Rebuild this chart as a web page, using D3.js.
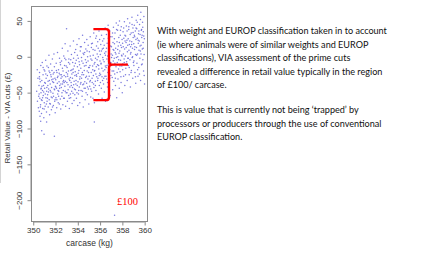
<!DOCTYPE html>
<html>
<head>
<meta charset="utf-8">
<script src="https://cdn.jsdelivr.net/npm/d3@7"></script>
<style>
  body { margin: 0; background: #fff; }
  svg { display: block; }
</style>
</head>
<body>
<div id="chart"></div>
<script>
// carcase weight (kg) and retail value difference (£)
const carcase = [
  350.31, 350.38, 350.42, 350.46, 350.49, 350.36,
  350.52, 350.54, 350.57, 350.59, 350.61, 350.63, 350.66, 350.68, 350.70, 350.72, 350.74, 350.56,
  350.77, 350.79, 350.81, 350.83, 350.85, 350.88, 350.90, 350.92, 350.95, 350.97, 350.99,
  351.02, 351.04, 351.07, 351.09, 351.12, 351.14, 351.16, 351.19, 351.21, 351.23, 351.24,
  351.27, 351.29, 351.31, 351.34, 351.36, 351.38, 351.41, 351.43, 351.45, 351.47, 351.49,
  351.52, 351.54, 351.56, 351.59, 351.61, 351.63, 351.65, 351.68, 351.70, 351.72, 351.74,
  351.77, 351.79, 351.81, 351.83, 351.86, 351.88, 351.90, 351.93, 351.95, 351.97, 351.99,
  352.02, 352.04, 352.06, 352.09, 352.11, 352.13, 352.16, 352.18, 352.20, 352.22, 352.24,
  352.27, 352.29, 352.32, 352.34, 352.36, 352.38, 352.41, 352.43, 352.45, 352.47, 352.49,
  352.52, 352.54, 352.57, 352.59, 352.61, 352.63, 352.66, 352.68, 352.70, 352.72, 352.74,
  352.77, 352.79, 352.81, 352.84, 352.86, 352.88, 352.91, 352.93, 352.95, 352.97, 352.99,
  353.02, 353.04, 353.07, 353.09, 353.11, 353.13, 353.16, 353.18, 353.20, 353.22, 353.24,
  353.27, 353.29, 353.31, 353.34, 353.36, 353.38, 353.40, 353.43, 353.45, 353.47, 353.49,
  353.52, 353.54, 353.57, 353.59, 353.61, 353.63, 353.66, 353.68, 353.70, 353.72, 353.74,
  353.77, 353.79, 353.81, 353.84, 353.86, 353.88, 353.90, 353.93, 353.95, 353.97, 353.99,
  354.02, 354.04, 354.06, 354.09, 354.11, 354.13, 354.16, 354.18, 354.20, 354.22, 354.24,
  354.27, 354.29, 354.31, 354.34, 354.36, 354.38, 354.41, 354.43, 354.45, 354.47, 354.49,
  354.52, 354.54, 354.57, 354.59, 354.61, 354.63, 354.66, 354.68, 354.70, 354.72, 354.74,
  354.77, 354.79, 354.81, 354.84, 354.86, 354.88, 354.91, 354.93, 354.95, 354.97, 354.99,
  355.02, 355.04, 355.07, 355.09, 355.11, 355.13, 355.16, 355.18, 355.20, 355.22, 355.24,
  355.27, 355.29, 355.31, 355.34, 355.36, 355.38, 355.40, 355.43, 355.45, 355.47, 355.49,
  355.52, 355.54, 355.57, 355.59, 355.61, 355.63, 355.66, 355.68, 355.70, 355.72, 355.74,
  355.77, 355.79, 355.81, 355.84, 355.86, 355.88, 355.90, 355.93, 355.95, 355.97, 355.99,
  356.02, 356.04, 356.06, 356.09, 356.11, 356.13, 356.16, 356.18, 356.20, 356.22, 356.24,
  356.27, 356.29, 356.31, 356.34, 356.36, 356.38, 356.41, 356.43, 356.45, 356.47, 356.49,
  356.52, 356.54, 356.57, 356.59, 356.61, 356.63, 356.66, 356.68, 356.70, 356.72, 356.74,
  356.77, 356.79, 356.81, 356.84, 356.86, 356.88, 356.91, 356.93, 356.95, 356.97, 356.99,
  357.02, 357.04, 357.07, 357.09, 357.11, 357.13, 357.16, 357.18, 357.20, 357.22, 357.24,
  357.27, 357.29, 357.31, 357.34, 357.36, 357.38, 357.40, 357.43, 357.45, 357.47, 357.49,
  357.52, 357.54, 357.57, 357.59, 357.61, 357.63, 357.66, 357.68, 357.70, 357.72, 357.74,
  357.77, 357.79, 357.81, 357.84, 357.86, 357.88, 357.90, 357.93, 357.95, 357.97, 357.99,
  358.02, 358.04, 358.06, 358.09, 358.11, 358.13, 358.16, 358.18, 358.20, 358.22, 358.24,
  358.27, 358.29, 358.31, 358.34, 358.36, 358.38, 358.41, 358.43, 358.45, 358.47, 358.49,
  358.52, 358.54, 358.57, 358.59, 358.61, 358.63, 358.66, 358.68, 358.70, 358.72, 358.74,
  358.77, 358.79, 358.81, 358.84, 358.86, 358.88, 358.91, 358.93, 358.95, 358.97, 358.99,
  359.02, 359.04, 359.07, 359.09, 359.11, 359.13, 359.16, 359.18, 359.20, 359.22, 359.24,
  359.27, 359.29, 359.31, 359.34, 359.36, 359.38, 359.40, 359.43, 359.45, 359.47, 359.49,
  359.52, 359.54, 359.57, 359.59, 359.61, 359.63, 359.66, 359.68, 359.70, 359.72, 359.74,
  359.77, 359.79, 359.81, 359.84, 359.86, 359.88, 359.90, 359.93, 359.95, 359.97, 359.99,
  // second pass over the cloud
  350.53, 350.58, 350.64, 350.69, 350.73,
  350.78, 350.84, 350.89, 350.94, 350.98,
  351.03, 351.08, 351.13, 351.18, 351.22,
  351.28, 351.33, 351.37, 351.42, 351.48,
  351.53, 351.58, 351.62, 351.67, 351.73,
  351.78, 351.82, 351.87, 351.92, 351.96,
  352.03, 352.08, 352.12, 352.17, 352.23,
  352.28, 352.33, 352.37, 352.42, 352.48,
  352.53, 352.58, 352.62, 352.67, 352.73,
  352.78, 352.83, 352.87, 352.92, 352.96,
  353.03, 353.08, 353.12, 353.17, 353.23,
  353.28, 353.33, 353.37, 353.42, 353.48,
  353.53, 353.58, 353.62, 353.67, 353.73,
  353.78, 353.83, 353.87, 353.92, 353.96,
  354.03, 354.08, 354.12, 354.17, 354.23,
  354.28, 354.33, 354.37, 354.42, 354.48,
  354.53, 354.58, 354.62, 354.67, 354.73,
  354.78, 354.83, 354.87, 354.92, 354.96,
  355.03, 355.08, 355.12, 355.17, 355.23,
  355.28, 355.33, 355.37, 355.42, 355.48,
  355.53, 355.58, 355.62, 355.67, 355.73,
  355.78, 355.83, 355.87, 355.92, 355.96,
  356.03, 356.08, 356.12, 356.17, 356.23,
  356.28, 356.33, 356.37, 356.42, 356.48,
  356.53, 356.58, 356.62, 356.67, 356.73,
  356.78, 356.83, 356.87, 356.92, 356.96,
  357.03, 357.08, 357.12, 357.17, 357.23,
  357.28, 357.33, 357.37, 357.42, 357.48,
  357.53, 357.58, 357.62, 357.67, 357.73,
  357.78, 357.83, 357.87, 357.92, 357.96,
  358.03, 358.08, 358.12, 358.17, 358.23,
  358.28, 358.33, 358.37, 358.42, 358.48,
  358.53, 358.58, 358.62, 358.67, 358.73,
  358.78, 358.83, 358.87, 358.92, 358.96,
  359.03, 359.08, 359.12, 359.17, 359.23,
  359.28, 359.33, 359.37, 359.42, 359.48,
  359.53, 359.58, 359.62, 359.67, 359.73,
  359.78, 359.83, 359.87, 359.92, 359.96,
  // outliers
  350.67, 350.76, 350.97, 351.20, 351.90, 355.48, 357.30
];
const retailValue = [
  -48, -62, -30, -71, -55, -18,
  -40, -76, -22, -58, -83, -35, -67, -12, -50, -44, -79, -28,
  -33, -61, -8, -47, -72, -25, -54, -40, -85, -18, -64,
  -44, -20, -69, -37, -5, -57, -30, -77, -48, -13, -62,
  -26, -53, -40, -70, -15, -45, 2, -60, -33, -81, -22,
  -38, -66, -10, -49, -28, -74, -43, -19, -57, -3, -35,
  -51, -24, -68, -36, 4, -45, -14, -62, -30, -78, -41,
  -32, -57, -9, -44, -71, -22, -37, 6, -52, -27, -64,
  -18, -48, -35, -66, -2, -40, -25, -59, -11, -73, -30,
  -43, -6, -55, -28, 12, -38, -67, -20, -47, -33, 1,
  -26, -58, -12, -41, 18, -34, -69, -4, -50, -22, 39,
  -36, -15, -62, -27, 8, -46, -20, -54, -3, -31, -72,
  -10, -42, 15, -29, -57, -19, -36, 3, -48, -24, -65,
  -30, -8, -51, -17, 22, -39, -61, -13, -45, 6, -26,
  -21, -46, 10, -33, -5, -58, -27, 17, -40, -14, -68,
  -35, -2, -52, -19, 25, -42, -11, -64, -28, 8, -38,
  -16, -47, 14, -30, -6, -55, -22, 30, -39, -9, -70,
  -25, 3, -44, -13, 20, -35, -60, -4, -29, 11, -50,
  -8, -37, 24, -20, -53, 0, -31, 16, -45, -15, -66,
  -27, 7, -41, -12, 28, -33, -56, -3, -22, 13, -48,
  -5, -36, 19, -18, -58, 2, -26, 33, -43, -10, -64,
  -19, 9, -34, -2, 26, -47, -14, 15, -28, -61, 4,
  -11, 21, -30, 0, -52, -17, 36, -40, 8, -23, -6,
  3, -25, 17, -9, -44, 30, -16, -58, 11, -33, -1,
  -20, 12, -38, 25, -7, -49, 5, -27, 40, -13, -62,
  7, -15, 31, -31, -3, 19, -42, 1, -22, 44, -10,
  -4, 23, -35, 10, -18, 36, -54, -8, 15, -26, 4,
  14, -12, 28, -29, 2, -46, 20, -6, 41, -20, 9,
  -2, 18, -24, 33, 6, -40, 12, -14, 47, -1, -57,
  21, -8, 37, 0, -31, 15, -17, 27, 5, -44, 50,
  8, -21, 30, -5, 16, -36, 42, 2, -13, 24, -50,
  19, -10, 35, 4, -27, 26, -3, 49, 11, -40, 22,
  1, 29, -16, 13, 43, -7, 23, -33, 7, 53, -2,
  25, -12, 38, 9, -25, 17, 47, -4, 31, -42, 14,
  6, 33, -19, 21, 55, -1, 12, -30, 40, 27, -8,
  18, -6, 44, 10, 28, -22, 36, 3, -37, 24, 51,
  13, 39, -9, 26, 4, 58, -27, 19, 32, -15, 9,
  22, 45, -2, 31, 8, -33, 62, 16, 37, -11, 27,
  30, 11, 48, -4, 20, 35, -20, 56, 3, 25, -38,
  // second pass
  -52, -31, -70, -45, -60,
  -41, -57, -15, -49, -73,
  -36, -52, -24, -66, -43,
  -58, -34, -49, -20, -65,
  -47, -25, -56, -32, -70,
  -31, -55, -22, -46, -60,
  -42, -19, -60, -29, -47,
  -55, -23, -44, -8, -38,
  -25, -50, -16, -35, -58,
  -36, -2, -48, -28, -13,
  -50, -24, -39, -8, -58,
  -33, -52, -4, -40, -18,
  -43, -22, -2, -34, -53,
  -9, -38, -25, -50, 2,
  -23, -47, -7, -31, 14,
  -36, -1, -25, -48, 5,
  -38, -19, 6, -44, -12,
  -27, 8, -42, -6, -22,
  -15, -35, 1, -45, 18,
  -30, -13, 10, -38, -20,
  -8, -40, -24, 29, -4,
  -33, 12, -12, -26, 24,
  -36, -10, 8, -28, 22,
  -4, -30, 16, -18, 2,
  -27, 12, -12, -36, 26,
  -15, 3, -30, 28, -8,
  -1, -20, 33, 10, -34,
  25, -9, -30, 4, 38,
  -22, 10, 44, -4, 20,
  -13, 37, -28, 13, 1,
  -18, 14, 40, -8, 30,
  -25, 20, -10, 36, 16,
  -2, 42, -15, 22, 4,
  -22, 17, 45, 0, 34,
  -12, 30, 14, -28, 40,
  2, 48, -18, 23, 36,
  -24, 15, 52, 4, 38,
  -10, 41, 12, 29, -26,
  -90, -103, -108, -91, -111, -91, -221
];

const xTicks = [350, 352, 354, 356, 358, 360];
const yTicks = [50, 0, -50, -100, -150, -200];

// the red brace marks the spread between roughly +38 and -60 around 356-358 kg
const braceTop = 38.5, braceMid = -11, braceBottom = -60.5;
const braceLabel = "£100";

const paragraphs = [
  ["With weight and EUROP classification taken in to account",
   "(ie where animals were of similar weights and EUROP",
   "classifications), VIA assessment of the prime cuts",
   "revealed a difference in retail value typically in the region",
   "of £100/ carcase."],
  ["This is value that is currently not being \u2018trapped\u2019 by",
   "processors or producers through the use of conventional",
   "EUROP classification."]
];

const width = 425, height = 253;
const plot = {left: 31, right: 148, top: 6, bottom: 222};

const svg = d3.select("#chart").append("svg")
  .attr("width", width)
  .attr("height", height);

// faint edge of the pasted image
svg.append("line")
  .attr("x1", 0.5).attr("x2", 0.5)
  .attr("y1", 0).attr("y2", 183)
  .attr("stroke", "#d4d4d4");

const x = d3.scaleLinear().domain([349.8, 360.3]).range([plot.left, plot.right]);
const y = d3.scaleLinear().domain([70.8, -230.4]).range([plot.top, plot.bottom]);

// points
svg.append("g")
  .selectAll("circle")
  .data(carcase)
  .enter()
  .append("circle")
  .attr("cx", d => x(d))
  .attr("cy", (d, i) => y(retailValue[i]))
  .attr("r", 0.75)
  .attr("fill", "#6464d8")
  .attr("fill-opacity", 0.85);

// box
svg.append("rect")
  .attr("x", plot.left + 0.5)
  .attr("y", plot.top + 0.5)
  .attr("width", plot.right - plot.left - 1)
  .attr("height", plot.bottom - plot.top - 1)
  .attr("fill", "none")
  .attr("stroke", "#8a8a8a");

// axes, R style
const xAxis = d3.axisBottom(x).tickValues(xTicks).tickSize(4).tickPadding(2);
const xg = svg.append("g")
  .attr("transform", `translate(0, ${plot.bottom - 0.5})`)
  .call(xAxis);

const yAxis = d3.axisLeft(y).tickValues(yTicks).tickSize(4).tickPadding(2);
const yg = svg.append("g")
  .attr("transform", `translate(${plot.left + 0.5}, 0)`)
  .call(yAxis);

[xg, yg].forEach(g => {
  g.select(".domain").attr("stroke", "#8a8a8a");
  g.selectAll(".tick line").attr("stroke", "#8a8a8a");
  g.selectAll(".tick text")
    .attr("fill", "#333")
    .style("font-family", "Liberation Sans, Arial, sans-serif")
    .style("font-size", "8px");
});

xg.select(".domain").attr("d", `M${x(350)},0.5H${x(360)}`);
yg.select(".domain").attr("d", `M-0.5,${y(50)}V${y(-200)}`);

yg.selectAll(".tick text")
  .attr("x", null).attr("dy", null)
  .attr("text-anchor", "middle")
  .attr("transform", "translate(-10, 0) rotate(-90)");

// axis titles
svg.append("text")
  .attr("x", (plot.left + plot.right) / 2)
  .attr("y", 246)
  .attr("text-anchor", "middle")
  .attr("fill", "#333")
  .style("font-family", "Liberation Sans, Arial, sans-serif")
  .style("font-size", "8.5px")
  .text("carcase (kg)");

svg.append("text")
  .attr("transform", `translate(10, ${(plot.top + plot.bottom) / 2 + 4}) rotate(-90)`)
  .attr("text-anchor", "middle")
  .attr("fill", "#333")
  .style("font-family", "Liberation Sans, Arial, sans-serif")
  .style("font-size", "8px")
  .text("Retail Value - VIA cuts (£)");

// red brace
const bx0 = x(355.4), bx1 = x(356.8), bx2 = x(358.5);
const yT = y(braceTop), yM = y(braceMid), yB = y(braceBottom);
const r = 3;
const brace = d3.path();
brace.moveTo(bx0, yT);
brace.lineTo(bx1 - r, yT);
brace.quadraticCurveTo(bx1, yT, bx1, yT + r);
brace.lineTo(bx1, yM - r);
brace.quadraticCurveTo(bx1, yM, bx1 + r, yM);
brace.lineTo(bx2, yM);
brace.moveTo(bx1 + r, yM);
brace.quadraticCurveTo(bx1, yM, bx1, yM + r);
brace.lineTo(bx1, yB - r);
brace.quadraticCurveTo(bx1, yB, bx1 - r, yB);
brace.lineTo(bx0, yB);

svg.append("path")
  .attr("d", brace.toString())
  .attr("fill", "none")
  .attr("stroke", "#ff0000")
  .attr("stroke-width", 2.4)
  .attr("stroke-linecap", "butt");

svg.append("text")
  .attr("x", x(358.45))
  .attr("y", y(-206))
  .attr("text-anchor", "middle")
  .attr("fill", "#ff0000")
  .style("font-family", "Liberation Serif, Times New Roman, serif")
  .style("font-size", "10.5px")
  .text(braceLabel);

// explanatory text on the right
const textX = 157;
const lineGap = 13.5;
const paraStarts = [34, 113];
const textG = svg.append("g")
  .style("font-family", "Lato, Open Sans, sans-serif")
  .attr("fill", "#111");

let fontSize = 9;
paragraphs.forEach((lines, p) => {
  lines.forEach((line, i) => {
    textG.append("text")
      .attr("x", textX)
      .attr("y", paraStarts[p] + i * lineGap)
      .style("font-size", fontSize + "px")
      .text(line);
  });
});

// fit the first line to its width in the picture (about 230px)
const firstLen = textG.select("text").node().getComputedTextLength();
fontSize = fontSize * 230 / firstLen;
textG.selectAll("text").style("font-size", fontSize + "px");
</script>
</body>
</html>
